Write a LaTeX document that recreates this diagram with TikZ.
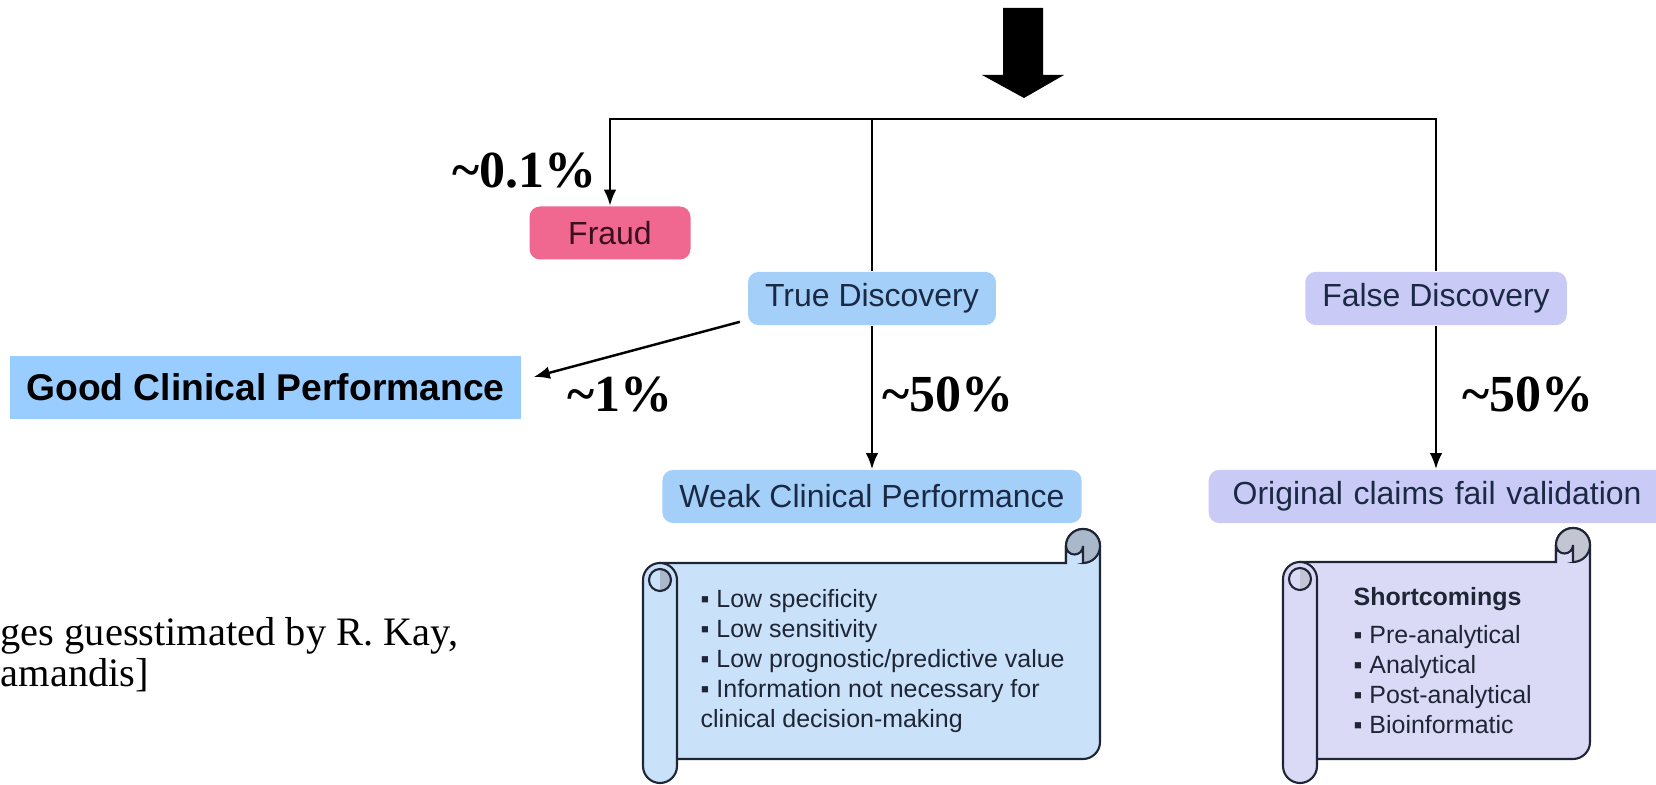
\documentclass[tikz,border=0pt]{standalone}
\usepackage{fontspec}
\setmainfont{Liberation Serif}
\setsansfont{Liberation Sans}
\usepackage{xcolor}
\usetikzlibrary{arrows.meta,calc}
\definecolor{skyfill}{HTML}{A3CFF8}
\definecolor{lilac}{HTML}{CACAF6}
\definecolor{rose}{HTML}{F0678F}
\definecolor{rosetext}{HTML}{3A1020}
\definecolor{goodblue}{HTML}{99CCFF}
\definecolor{navy}{HTML}{1B2A44}
\definecolor{scrollblue}{HTML}{C9E1F9}
\definecolor{scrolllilac}{HTML}{DADAF7}
\definecolor{curlblue}{HTML}{A9B9CB}
\definecolor{curllilac}{HTML}{C3C5D3}
\definecolor{rim}{HTML}{1E2535}

% scroll: #1 left, #2 right, #3 top, #4 bottom, #5 fill, #6 curl
\newcommand{\scrollbox}[6]{%
  \pgfmathsetmacro{\bt}{#3-0.34}
  \pgfmathsetmacro{\bb}{#4+0.24}
  \draw[rim,line width=.6pt,fill=#5] (#1+.17,\bt) -- (#2-.34,\bt) -- (#2-.34,#3-.17)
    arc (180:0:.17) -- (#2,\bb+.17) arc (0:-90:.17) -- (#1+.17,\bb) -- cycle;
  \draw[rim,line width=.6pt,fill=#6] (#2-.17,#3-.17) circle (.17);
  \draw[rim,line width=.6pt,fill=#5] (#2-.34,\bt) -- (#2-.34,#3-.17)
    arc (180:360:.085) -- (#2-.17,\bt);
  \draw[rim,line width=.6pt,fill=#5,rounded corners=.17cm] (#1,#4) rectangle (#1+.34,\bt);
  \fill[#6] (#1+.17,\bt-.06) arc (90:-90:.11) -- cycle;
  \draw[rim,line width=.6pt] (#1+.17,\bt-.17) circle (.11);
}

\begin{document}
\begin{tikzpicture}[x=1cm,y=1cm,>=Latex]
 \tikzset{
  stage/.style={rounded corners=3pt,text=navy,minimum height=.53cm,inner xsep=.17cm,
   font=\sffamily\fontsize{9.1}{10}\selectfont},
  pct/.style={inner sep=0,font=\fontsize{14.8}{16}\selectfont\bfseries},
  listtext/.style={inner sep=0,align=left,text=rim,font=\sffamily\fontsize{7.1}{8.5}\selectfont},
  link/.style={line width=.7pt,-{Latex[length=4.6pt,width=3.6pt]}}
 }
 \useasboundingbox (0,0) rectangle (16.56,7.85);
 \clip (0,0) rectangle (16.56,7.85);

 % big arrow on top
 \fill (10.03,7.77) -- (10.43,7.77) -- (10.43,7.10) -- (10.64,7.10) -- (10.24,6.87)
  -- (9.82,7.10) -- (10.03,7.10) -- cycle;

 \node[stage,fill=rose,text=rosetext,minimum width=1.61cm] (fraud) at (6.10,5.52) {Fraud};
 \node[stage,fill=skyfill] (truedisc) at (8.72,4.865) {True Discovery};
 \node[stage,fill=lilac] (falsedisc) at (14.36,4.865) {False Discovery};
 \node[stage,fill=skyfill] (weak) at (8.72,2.885) {Weak Clinical Performance};
 \node[stage,fill=lilac,anchor=west,inner xsep=.24cm,text width=4.6cm,align=left]
  (orig) at (12.08,2.885) {Original claims fail validation};
 \node[fill=goodblue,minimum width=5.11cm,minimum height=.63cm,
  font=\sffamily\bfseries\fontsize{10.6}{12}\selectfont] (good) at (2.655,3.975) {Good Clinical Performance};

 \coordinate (barL) at (6.10,6.66);
 \coordinate (barR) at (14.36,6.66);
 \draw[link] (falsedisc.north) -- (barR) -- (barL) -- (fraud.north);
 \draw[line width=.7pt] (truedisc.north) -- (truedisc.north |- barL);
 \draw[link] (truedisc) -- (weak);
 \draw[link] (falsedisc) -- (falsedisc |- orig.north);
 \draw[link] ([shift={(-.075,.04)}]truedisc.south west) -- ([shift={(.12,.105)}]good.east);

 \node[pct,anchor=base east] (pfraud) at (5.97,5.97) {\textasciitilde0.1\%};
 \node[pct,anchor=base west] (pgood) at (5.67,3.73) {\textasciitilde1\%};
 \node[pct,anchor=base west] (pweak) at (8.82,3.73) {\textasciitilde50\%};
 \node[pct,anchor=base west] (pfalse) at (14.62,3.73) {\textasciitilde50\%};

 % the two scrolls
 \scrollbox{6.43}{11.00}{2.56}{0.02}{scrollblue}{curlblue}
 \scrollbox{12.83}{15.90}{2.57}{0.02}{scrolllilac}{curllilac}
 \node[listtext,anchor=north west] (weaklist) at (7.00,1.96)
  {▪ Low specificity\\▪ Low sensitivity\\▪ Low prognostic/predictive value\\
   ▪ Information not necessary for\\clinical decision-making};
 \node[listtext,anchor=north west] (shortlist) at (13.53,1.98)
  {\textbf{Shortcomings}\\[2.3pt]▪ Pre-analytical\\▪ Analytical\\▪ Post-analytical\\▪ Bioinformatic};

 \node[inner sep=0,anchor=north west,align=left,font=\fontsize{11.5}{10}\selectfont] (source)
  at (0,1.68) {ges guesstimated by R. Kay,\\amandis]};
\end{tikzpicture}
\end{document}
